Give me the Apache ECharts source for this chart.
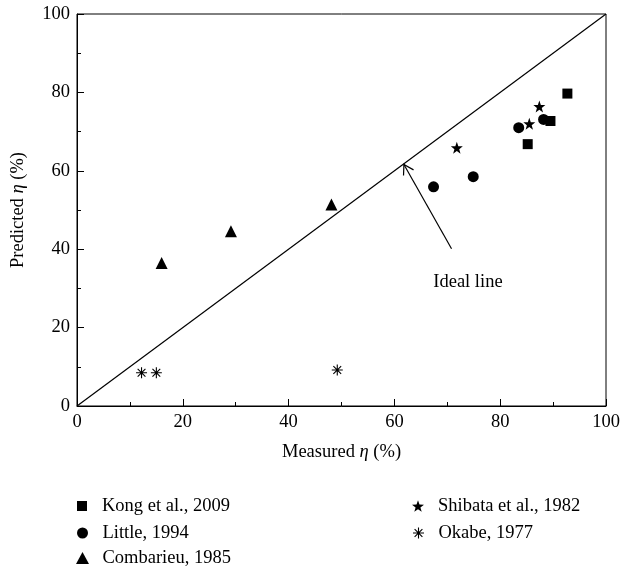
<!DOCTYPE html>
<html>
<head>
<meta charset="utf-8">
<script src="https://cdn.jsdelivr.net/npm/echarts@6/dist/echarts.min.js"></script>
<style>html,body{margin:0;padding:0;background:#fff}#main{width:623px;height:571px}</style>
</head>
<body>
<div id="main"></div>
<script>
// ---- data ----
var seriesNames = ['Kong et al., 2009', 'Little, 1994', 'Combarieu, 1985', 'Shibata et al., 1982', 'Okabe, 1977'];
var kong = [[92.7, 79.7], [89.5, 72.7], [85.2, 66.8]];
var little = [[67.4, 55.9], [74.9, 58.5], [83.5, 71.0], [88.2, 73.1]];
var combarieu = [[16.0, 36.5], [29.1, 44.6], [48.1, 51.4]];
var shibata = [[71.8, 65.9], [85.5, 72.0], [87.4, 76.4]];
var okabe = [[12.2, 8.5], [15.0, 8.5], [49.2, 9.2]];
var idealLine = [[0, 0], [100, 100]];
var arrowFrom = [70.8, 40.1];
var arrowTo = [61.8, 61.6];
var annotationText = 'Ideal line';
var annotationPos = [73.9, 31.5];
var axisTicks = [0, 20, 40, 60, 80, 100];

// ---- symbol shapes ----
function starPath() {
  var pts = [];
  for (var i = 0; i < 10; i++) {
    var r = i % 2 === 0 ? 50 : 20;
    var a = -Math.PI / 2 + i * Math.PI / 5;
    pts.push((50 + r * Math.cos(a)).toFixed(2) + ',' + (52 + r * Math.sin(a)).toFixed(2));
  }
  return 'path://M' + pts.join('L') + 'Z';
}
function asteriskPath() {
  var s = '';
  var w = 5, L = 50;
  [90, 0, 45, 135].forEach(function (deg) {
    var a = deg * Math.PI / 180, c = Math.cos(a), sn = Math.sin(a);
    var px = -sn * w, py = c * w;
    var p = [[50 + L * c + px, 50 + L * sn + py], [50 + L * c - px, 50 + L * sn - py],
             [50 - L * c - px, 50 - L * sn - py], [50 - L * c + px, 50 - L * sn + py]];
    s += 'M' + p.map(function (q) { return q[0].toFixed(2) + ',' + q[1].toFixed(2); }).join('L') + 'Z';
  });
  return 'path://' + s;
}
var STAR = starPath();
var AST = asteriskPath();

var FONT = 'Liberation Serif';
var FS = 18.5;
var chart = echarts.init(document.getElementById('main'));

function scatter(name, data, symbol, size) {
  return {
    name: name, type: 'scatter', data: data, symbol: symbol, symbolSize: size,
    itemStyle: { color: '#000', opacity: 1 }, z: 5
  };
}
function legendItem(name, icon, left, top, w, h) {
  return {
    data: [{ name: name, icon: icon }],
    orient: 'vertical', left: left, top: top, itemWidth: w, itemHeight: h,
    padding: 0,
    textStyle: { fontFamily: FONT, fontSize: FS, color: '#000', lineHeight: 20, padding: [0, 0, 0, 15 - w / 2] },
    selectedMode: false,
    itemStyle: { opacity: 1 }
  };
}

var richName = { n: { fontFamily: FONT, fontSize: FS, color: '#000' }, i: { fontFamily: FONT, fontSize: FS, fontStyle: 'italic', color: '#000' } };

var option = {
  animation: false,
  backgroundColor: '#fff',
  textStyle: { fontFamily: FONT, color: '#000' },
  grid: { left: 77, right: 17, top: 14, bottom: 165, show: true, borderColor: '#000', borderWidth: 1, backgroundColor: 'transparent' },
  xAxis: {
    type: 'value', min: axisTicks[0], max: axisTicks[axisTicks.length - 1], interval: 20,
    name: '{n|Measured }{i|η}{n| (%)}', nameLocation: 'middle', nameGap: 37,
    nameTextStyle: { rich: richName },
    axisLine: { show: true, lineStyle: { color: '#000', width: 1 } },
    axisTick: { show: true, inside: true, length: 7, lineStyle: { color: '#000' } },
    minorTick: { show: true, splitNumber: 2, length: 4, lineStyle: { color: '#000' } },
    splitLine: { show: false },
    axisLabel: { fontFamily: FONT, fontSize: FS, color: '#000', margin: 7 }
  },
  yAxis: {
    type: 'value', min: axisTicks[0], max: axisTicks[axisTicks.length - 1], interval: 20,
    name: '{n|Predicted }{i|η}{n| (%)}', nameLocation: 'middle', nameGap: 49, nameRotate: 90,
    nameTextStyle: { rich: richName },
    axisLine: { show: true, lineStyle: { color: '#000', width: 1 } },
    axisTick: { show: true, inside: true, length: 7, lineStyle: { color: '#000' } },
    minorTick: { show: true, splitNumber: 2, length: 4, lineStyle: { color: '#000' } },
    splitLine: { show: false },
    axisLabel: { fontFamily: FONT, fontSize: FS, color: '#000', margin: 7 }
  },
  legend: [
    legendItem(seriesNames[0], 'rect', 77, 496, 10, 10),
    legendItem(seriesNames[1], 'circle', 77, 523, 11, 11),
    legendItem(seriesNames[2], 'triangle', 76, 548, 13, 12),
    legendItem(seriesNames[3], STAR, 412, 496, 12, 12),
    legendItem(seriesNames[4], AST, 413, 523, 11, 11)
  ],
  series: [
    {
      name: 'ideal', type: 'line', data: idealLine, symbol: 'none', silent: true,
      lineStyle: { color: '#000', width: 1.2 }, z: 2
    },
    scatter(seriesNames[0], kong, 'rect', 10),
    scatter(seriesNames[1], little, 'circle', 11),
    scatter(seriesNames[2], combarieu, 'triangle', 12),
    scatter(seriesNames[3], shibata, STAR, 12),
    scatter(seriesNames[4], okabe, AST, 11),
    {
      name: 'arrow', type: 'custom', silent: true, z: 3,
      data: [[arrowFrom[0], arrowFrom[1], arrowTo[0], arrowTo[1]]],
      renderItem: function (params, api) {
        var p1 = api.coord([api.value(0), api.value(1)]);
        var p2 = api.coord([api.value(2), api.value(3)]);
        var ang = Math.atan2(p1[1] - p2[1], p1[0] - p2[0]);
        var hl = 11, spread = 0.55;
        var h1 = [p2[0] + hl * Math.cos(ang + spread), p2[1] + hl * Math.sin(ang + spread)];
        var h2 = [p2[0] + hl * Math.cos(ang - spread), p2[1] + hl * Math.sin(ang - spread)];
        var st = { stroke: '#000', lineWidth: 1.2, fill: null };
        return {
          type: 'group', children: [
            { type: 'line', shape: { x1: p1[0], y1: p1[1], x2: p2[0], y2: p2[1] }, style: st },
            { type: 'polyline', shape: { points: [h1, p2, h2] }, style: st }
          ]
        };
      }
    },
    {
      name: 'annot', type: 'scatter', silent: true, symbolSize: 0,
      itemStyle: { opacity: 1 },
      data: [annotationPos],
      label: { show: true, position: 'inside', formatter: annotationText, fontFamily: FONT, fontSize: FS, color: '#000' }
    }
  ]
};
chart.setOption(option);
</script>
</body>
</html>
